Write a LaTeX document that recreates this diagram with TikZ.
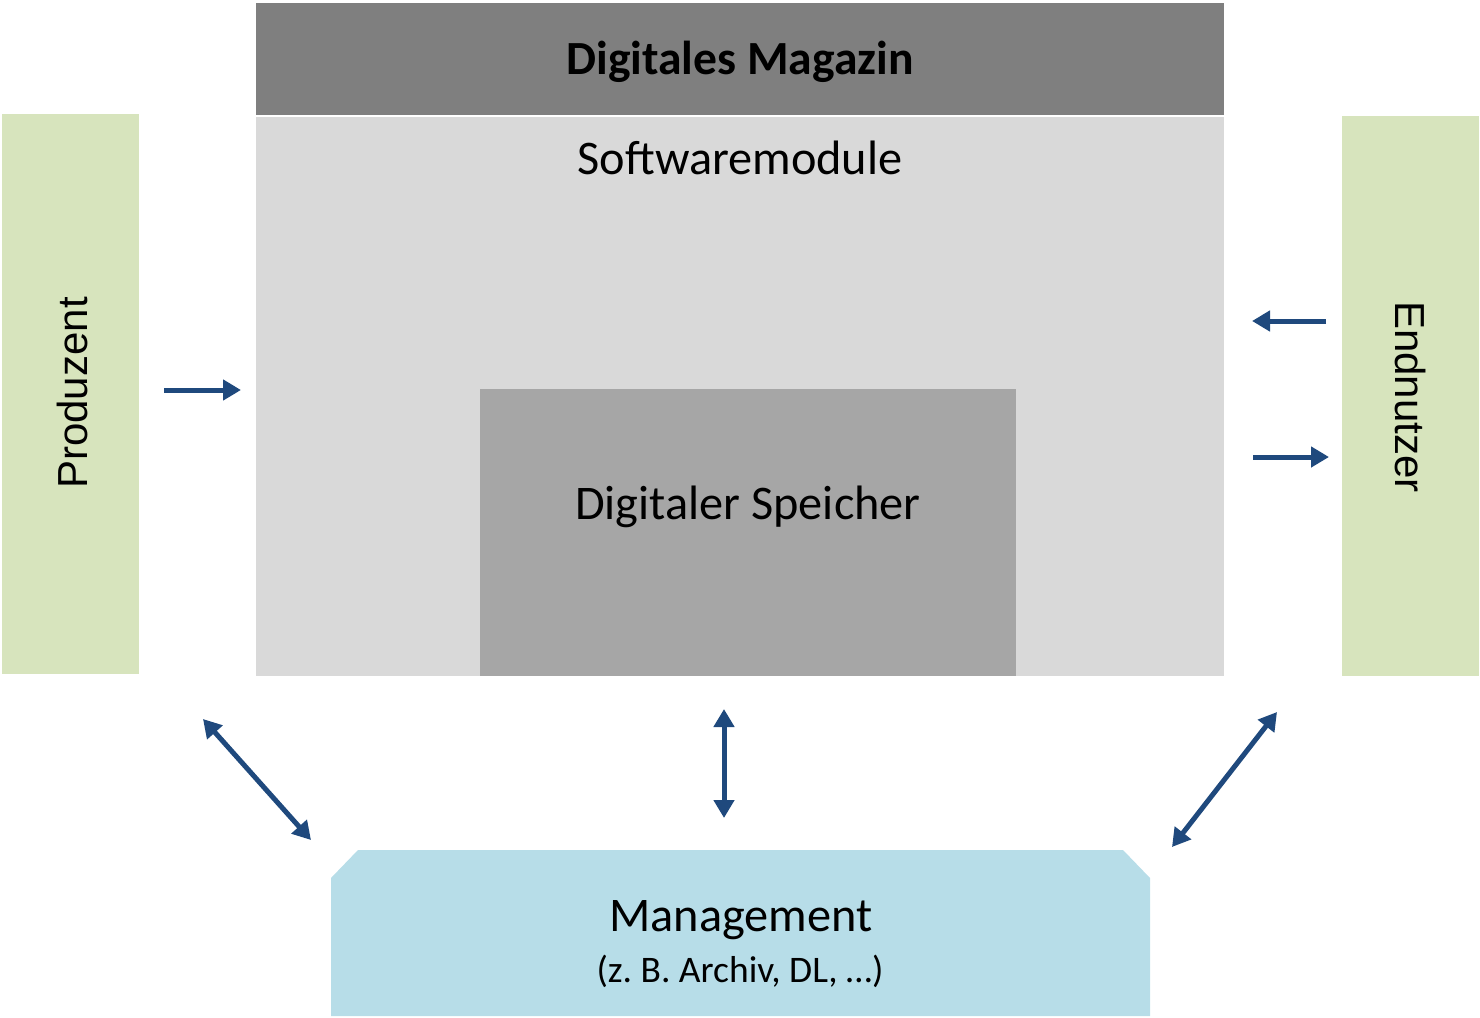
\documentclass[tikz,border=0pt]{standalone}
\usepackage{fontspec}
\setmainfont{Carlito}
\newfontfamily\arialf{Liberation Sans}
\usetikzlibrary{arrows.meta}
\definecolor{hdr}{HTML}{7F7F7F}
\definecolor{soft}{HTML}{D9D9D9}
\definecolor{store}{HTML}{A6A6A6}
\definecolor{actor}{HTML}{D7E4BD}
\definecolor{mgmt}{HTML}{B7DDE8}
\definecolor{arr}{HTML}{1F497D}
\tikzset{
  panel/.style={inner sep=0pt, outer sep=0pt},
  big/.style={font=\fontsize{48.3}{56}\selectfont},
  flow/.style={draw=arr, line width=5pt, -{Triangle[length=18pt,width=20pt]}},
  flowboth/.style={draw=arr, line width=5pt, {Triangle[length=18pt,width=20pt]}-{Triangle[length=18pt,width=20pt]}},
}
\begin{document}
\begin{tikzpicture}[x=1pt,y=-1pt]
\useasboundingbox (0,0) rectangle (1480,1017);
% panels
\fill[hdr] (256,3) rectangle (1224,115);
\fill[soft] (256,117) rectangle (1224,676);
\fill[store] (480,389) rectangle (1016,676);
\fill[actor] (2,114) rectangle (139,674);
\fill[actor] (1342,116) rectangle (1479,676);
\fill[mgmt] (331,878) -- (358,850) -- (1123,850) -- (1150,878) -- (1150,1016) -- (331,1016) -- cycle;
% nodes
\node[panel, font=\fontsize{47.6}{56}\selectfont\bfseries] (hdrt) at (740,62) {Digitales Magazin};
\node[panel, big] (softt) at (740,158) {Softwaremodule};
\node[panel, big] (storet) at (748,507) {Digitaler Speicher};
\node[panel, font=\fontsize{42}{50}\selectfont\arialf, rotate=90] (prod) at (72,393) {Produzent};
\node[panel, font=\fontsize{42}{50}\selectfont\arialf, rotate=-90] (endn) at (1410,397) {Endnutzer};
\node[panel, big] (mgmtA) at (741,920) {Management};
\node[panel, font=\fontsize{37.5}{44}\selectfont] (mgmtB) at (740,971) {(z.\ B. Archiv, DL, …)};
% arrow endpoints
\coordinate (p1) at (164,390); \coordinate (p2) at (241,390);
\coordinate (e1) at (1326,321); \coordinate (e2) at (1252,321);
\coordinate (e3) at (1253,457); \coordinate (e4) at (1329,457);
\coordinate (d1) at (203,719); \coordinate (d2) at (311,840);
\coordinate (v1) at (724,709); \coordinate (v2) at (724,818);
\coordinate (r1) at (1277,712); \coordinate (r2) at (1172,847);
\draw[flow] (p1) -- (p2);
\draw[flow] (e1) -- (e2);
\draw[flow] (e3) -- (e4);
\draw[flowboth] (d1) -- (d2);
\draw[flowboth] (v1) -- (v2);
\draw[flowboth] (r1) -- (r2);
\end{tikzpicture}
\end{document}
